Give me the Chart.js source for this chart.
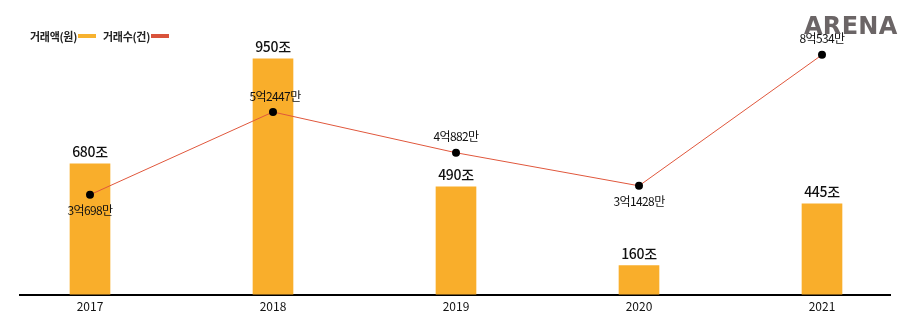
<!DOCTYPE html>
<html>
<head>
<meta charset="utf-8">
<script src="https://cdn.jsdelivr.net/npm/chart.js@4"></script>
<style>
  body { margin: 0; background: #fff; }
  #wrap { position: relative; width: 910px; height: 320px; font-family: 'Noto Sans CJK KR', sans-serif; }
  #legend { position: absolute; left: 30px; top: 28px; font-size: 11px; font-weight: 600; color: #222; display: flex; align-items: center; letter-spacing: -0.3px; }
  #legend .sw { display: inline-block; width: 18px; height: 4px; margin-left: 1px; margin-right: 7px; }
  #logo { position: absolute; left: 804px; top: 12px; font-family: 'DejaVu Sans', sans-serif; font-weight: bold; font-size: 24px; color: #6b6566; letter-spacing: 0.3px; }
</style>
</head>
<body>
<div id="wrap">
  <canvas id="myChart" width="910" height="320"></canvas>
  <div id="legend"></div>
  <div id="logo">ARENA</div>
</div>
<script>
// 연도
const years = [2017, 2018, 2019, 2020, 2021];

// 거래액 (막대 높이는 그림에서 읽은 값, 라벨은 그림의 글자)
const amountBars = [582, 1049, 480, 129, 404];
const amountLabels = ['680조', '950조', '490조', '160조', '445조'];

// 거래수 (점 높이는 그림에서 읽은 값, 단위 만 건)
const countPoints = [31100, 56900, 44200, 33900, 74700];
const countLabels = ['3억698만', '5억2447만', '4억882만', '3억1428만', '8억534만'];

const seriesNames = ['거래액(원)', '거래수(건)'];

const corOuro = '#f9ae2b';
const corLinha = '#e0573c';

// legenda em html (texto antes da cor)
const legend = document.getElementById('legend');
[[seriesNames[0], '#f7b22f'], [seriesNames[1], '#d9533b']].forEach(([nome, cor]) => {
    const t = document.createElement('span');
    t.textContent = nome;
    const s = document.createElement('span');
    s.className = 'sw';
    s.style.background = cor;
    legend.appendChild(t);
    legend.appendChild(s);
});

// rotulos dos valores
const rotulos = {
    id: 'rotulos',
    afterDatasetsDraw(chart) {
        const ctx = chart.ctx;
        ctx.save();
        ctx.fillStyle = '#111';
        ctx.textAlign = 'center';
        ctx.textBaseline = 'middle';

        const barras = chart.getDatasetMeta(0).data;
        ctx.font = '500 14px "Noto Sans CJK KR"';
        ctx.letterSpacing = '-0.3px';
        barras.forEach((el, i) => {
            ctx.fillText(amountLabels[i], el.x, el.y - 12);
        });

        const lado = [1, -1, -1, 1, -1];
        const pontos = chart.getDatasetMeta(1).data;
        ctx.font = '400 12px "Noto Sans CJK KR"';
        ctx.letterSpacing = '-0.6px';
        pontos.forEach((el, i) => {
            ctx.fillText(countLabels[i], el.x + (i == 1 ? 2 : 0), el.y + lado[i] * 16);
        });
        ctx.restore();
    }
};

const ctx = document.getElementById('myChart').getContext('2d');
window.myChartInstance = new Chart(ctx, {
    type: 'bar',
    data: {
        datasets: [{
            label: seriesNames[0],
            data: years.map((ano, i) => ({ x: ano, y: amountBars[i] })),
            backgroundColor: corOuro,
            barThickness: 40,
            yAxisID: 'y',
            order: 1
        }, {
            type: 'line',
            label: seriesNames[1],
            data: years.map((ano, i) => ({ x: ano, y: countPoints[i] })),
            borderColor: corLinha,
            borderWidth: 1,
            pointRadius: 4,
            pointHoverRadius: 4,
            pointBackgroundColor: '#000',
            pointBorderWidth: 0,
            yAxisID: 'y1',
            order: 0
        }]
    },
    options: {
        responsive: false,
        animation: false,
        layout: { padding: { left: 20, right: 20, top: 25, bottom: 1 } },
        plugins: {
            legend: { display: false },
            tooltip: { enabled: false }
        },
        scales: {
            x: {
                type: 'linear',
                min: 2016.6175,
                max: 2021.3716,
                offset: false,
                z: 1,
                afterBuildTicks: (scale) => { scale.ticks = years.map(v => ({ value: v })); },
                ticks: {
                    callback: (v) => String(v),
                    color: '#111',
                    padding: 5,
                    font: { family: 'Noto Sans CJK KR', size: 12 }
                },
                grid: { display: false, drawTicks: false },
                border: { display: true, color: '#000', width: 2 }
            },
            y: { display: false, min: 0, max: 1200 },
            y1: { display: false, min: 0, max: 84000 }
        }
    },
    plugins: [rotulos]
});
</script>
</body>
</html>
